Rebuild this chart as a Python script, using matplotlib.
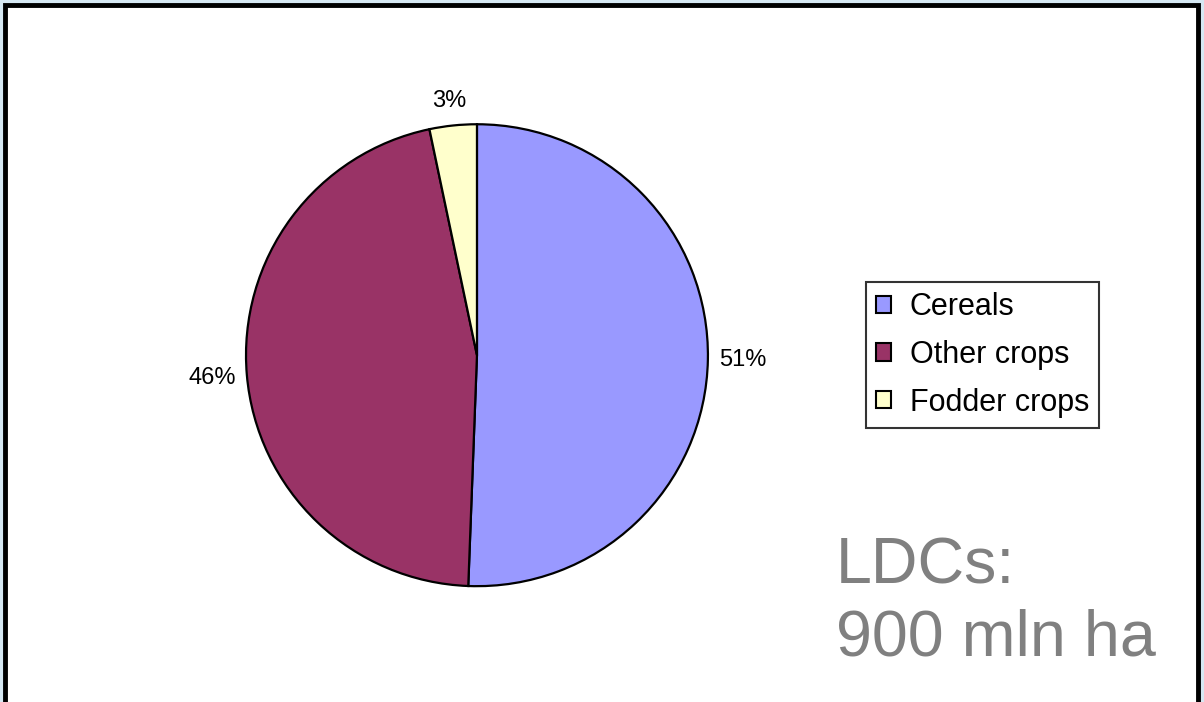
import matplotlib
matplotlib.use("Agg")
import matplotlib.pyplot as plt
from matplotlib.patches import Rectangle, Patch

plt.rcParams["font.family"] = ["Liberation Sans", "DejaVu Sans"]

# share of cultivated area (%), LDCs
cultivos = ["Cereals", "Other crops", "Fodder crops"]
porcentajes = [50.6, 46.1, 3.3]
colores = ["#9999FF", "#993366", "#FFFFCC"]
nota = "LDCs:\n900 mln ha"

fig = plt.figure(figsize=(12.04, 7.02), dpi=100)
fig.patch.set_facecolor("#D6E8F3")

# marco blanco con borde negro (continua por debajo del borde inferior)
marco = Rectangle((5 / 1204, -0.05), 1193 / 1204, 1.05 - 5 / 702,
                  transform=fig.transFigure, facecolor="white",
                  edgecolor="black", linewidth=3.5, zorder=-5)
fig.patches.append(marco)

ax = fig.add_axes([0.2043, 0.165, 0.3837, 0.658])
ax.set_zorder(1)
ax.patch.set_visible(False)
wedges, textos, pcts = ax.pie(
    porcentajes, colors=colores, startangle=90, counterclock=False,
    autopct="%1.0f%%", pctdistance=1.15,
    wedgeprops={"edgecolor": "black", "linewidth": 1.6},
    textprops={"fontsize": 17},
)
ax.set_xlim(-1, 1)
ax.set_ylim(-1, 1)
ax.set_aspect("equal")
for w in wedges:
    w.set_clip_on(False)
# etiqueta del 3% un poco mas abajo, como en el original
x, y = pcts[2].get_position()
pcts[2].set_position((x, y - 0.045))

manijas = [Patch(facecolor=c, edgecolor="black", linewidth=1.5) for c in colores]
ley = fig.legend(manijas, cultivos, loc="upper left",
                 bbox_to_anchor=(866 / 1204, 1 - 282 / 702),
                 fontsize=22, frameon=True, fancybox=False,
                 handlelength=0.5, handleheight=0.5, handletextpad=0.6,
                 labelspacing=0.58, borderpad=0.33, borderaxespad=0)
ley.get_frame().set_edgecolor("black")
ley.get_frame().set_linewidth(1.5)

fig.text(836 / 1204, 1 - 537 / 702, nota, fontsize=46.5, color="#808080",
         ha="left", va="top", linespacing=1.24)

fig.savefig("out.png", dpi=100, facecolor=fig.get_facecolor())
